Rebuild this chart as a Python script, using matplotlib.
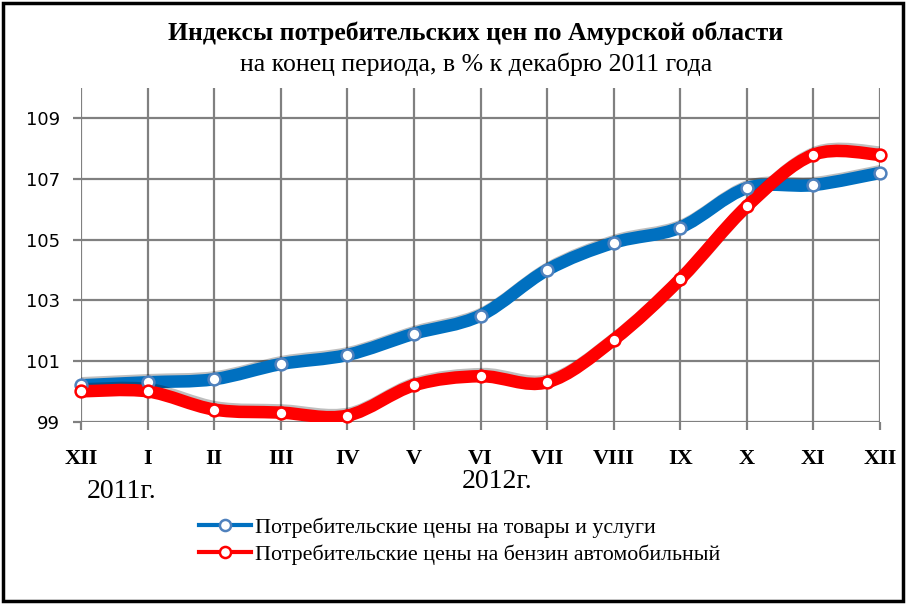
import matplotlib
matplotlib.use("Agg")
import matplotlib.pyplot as plt
import matplotlib.patheffects as pe
from matplotlib.path import Path
from matplotlib.patches import PathPatch, Rectangle
from matplotlib.lines import Line2D
import numpy as np

months = ["XII", "I", "II", "III", "IV", "V", "VI", "VII", "VIII", "IX", "X", "XI", "XII"]
goods_services = [100.2, 100.3, 100.4, 100.9, 101.2, 101.9, 102.5, 104.0, 104.9, 105.4, 106.7, 106.8, 107.2]
gasoline = [100.0, 100.0, 99.4, 99.3, 99.2, 100.2, 100.5, 100.3, 101.7, 103.7, 106.1, 107.8, 107.8]
yticks = [99, 101, 103, 105, 107, 109]
series_names = ["Потребительские цены на товары и услуги",
                "Потребительские цены на бензин автомобильный"]
colors = ["#0070C0", "#FF0000"]
marker_edges = ["#4F81BD", "#FF0000"]

serif = ["Liberation Serif", "DejaVu Serif"]
sans = ["DejaVu Sans"]

fig = plt.figure(figsize=(9.06, 6.04), dpi=100)
ax = fig.add_axes([81 / 906, 1 - 421.7 / 604, (880 - 81) / 906, (421.7 - 88) / 604])


def smooth_path(x, y):
    x = np.asarray(x, float)
    y = np.asarray(y, float)
    n = len(x)
    verts = [(x[0], y[0])]
    codes = [Path.MOVETO]
    for i in range(n - 1):
        i0 = max(i - 1, 0)
        i3 = min(i + 2, n - 1)
        c1 = (x[i] + (x[i + 1] - x[i0]) / 6, y[i] + (y[i + 1] - y[i0]) / 6)
        c2 = (x[i + 1] - (x[i3] - x[i]) / 6, y[i + 1] - (y[i3] - y[i]) / 6)
        verts += [c1, c2, (x[i + 1], y[i + 1])]
        codes += [Path.CURVE4] * 3
    return Path(verts, codes)


xs = np.arange(len(months))
for vals, col, mec in zip([goods_services, gasoline], colors, marker_edges):
    patch = PathPatch(smooth_path(xs, vals), fill=False, edgecolor=col, lw=9,
                      capstyle="round", joinstyle="round", zorder=3)
    patch.set_path_effects([pe.SimpleLineShadow(offset=(1.5, 1.5), shadow_color="black", alpha=0.25),
                            pe.Normal()])
    ax.add_patch(patch)
    ax.plot(xs, vals, ls="none", marker="o", ms=8.5, mfc="white", mec=mec, mew=1.8,
            zorder=4, clip_on=False)

ax.set_xlim(0, 12)
ax.set_ylim(99, 110)
ax.set_xticks(xs)
ax.set_xticklabels(months, family=serif, fontsize=16, fontweight="bold")
ax.set_yticks(yticks)
ax.set_yticklabels([str(v) for v in yticks], family=sans, fontsize=13)
ax.grid(True, color="#808080", lw=1.6)
ax.set_axisbelow(True)
for s in ax.spines.values():
    s.set_visible(False)
ax.tick_params(axis="both", direction="out", length=6, width=1.6, color="#808080")
ax.tick_params(axis="x", pad=14)
ax.tick_params(axis="y", pad=9)

fig.text(476 / 906, 1 - 33 / 604, "Индексы потребительских цен по Амурской области",
         ha="center", va="center", family=serif, fontsize=18.5, fontweight="bold")
fig.text(476 / 906, 1 - 64 / 604, "на конец периода, в % к декабрю 2011 года",
         ha="center", va="center", family=serif, fontsize=18.5)
fig.text(122 / 906, 1 - 491 / 604, "2011г.", ha="center", va="center", family=serif, fontsize=20)
fig.text(497 / 906, 1 - 482 / 604, "2012г.", ha="center", va="center", family=serif, fontsize=20)

handles = [Line2D([], [], color=c, lw=3, marker="o", ms=8, mfc="white", mec=m, mew=1.8)
           for c, m in zip(colors, marker_edges)]
fig.legend(handles, series_names, loc="upper left", bbox_to_anchor=(199 / 906, 1 - 517 / 604),
           frameon=False, prop={"family": serif, "size": 15.8}, handlelength=2.35,
           handletextpad=0.2, labelspacing=0.32, borderpad=0, borderaxespad=0)

fig.add_artist(Rectangle((3 / 906, 3 / 604), 900 / 906, 598 / 604, transform=fig.transFigure,
                         fill=False, edgecolor="black", lw=2.5))

fig.savefig("out.png", dpi=100)
